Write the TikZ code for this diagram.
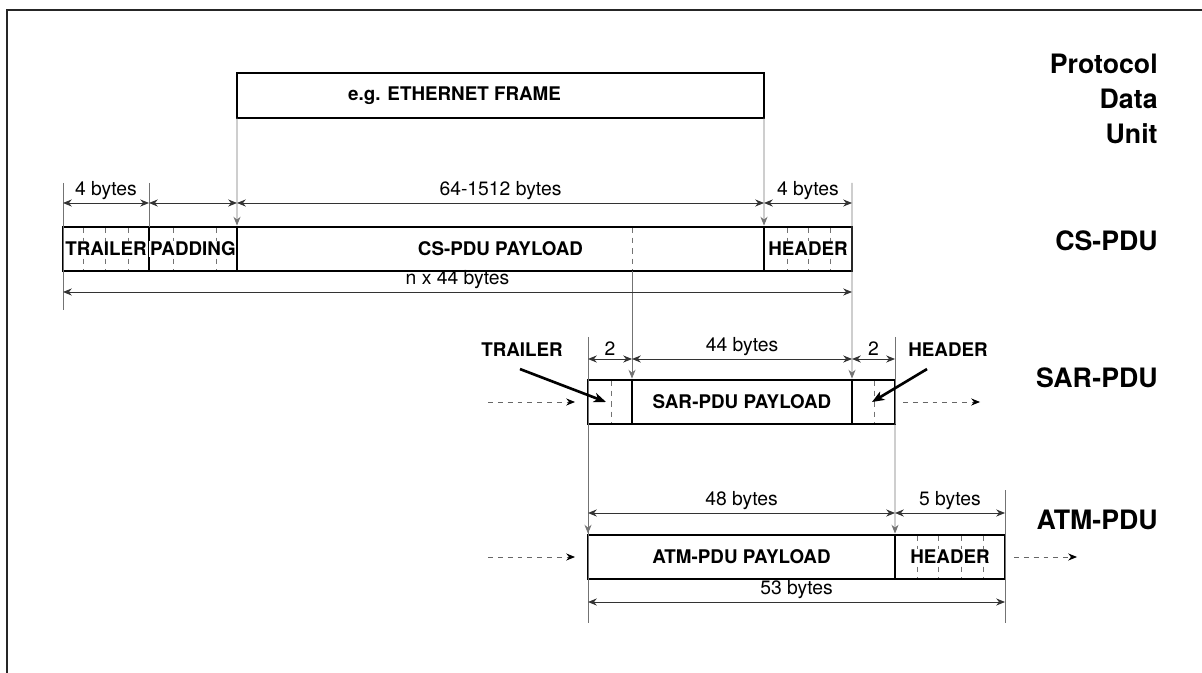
\documentclass[tikz,border=0pt]{standalone}
\usepackage{fontspec}
\setmainfont{TeX Gyre Heros}
\usetikzlibrary{arrows.meta,positioning,calc}

\newcommand{\fieldtext}[1]{{\setlength{\fboxsep}{0.6pt}\colorbox{white}{#1}}}

\tikzset{
  tip/.style={-{Stealth[length=5pt,width=4pt,inset=1.6pt]}},
  field/.style={draw, line width=1.6pt, minimum height=0.88cm, inner sep=0pt, outer sep=0pt,
    anchor=north west, font=\bfseries\fontsize{10.7}{12}\selectfont},
  tickline/.style={draw=black!55, line width=0.45pt, dash pattern=on 3.2pt off 2.8pt},
  tickmarks/.style={path picture={
      \foreach \t in {#1}
        \draw[tickline] ([xshift=\t cm]path picture bounding box.north west)
          -- ([xshift=\t cm]path picture bounding box.south west);}},
  extline/.style={draw=black!55, line width=0.5pt},
  dimline/.style={draw=black!80, line width=0.5pt,
    {Stealth[length=5pt,width=4pt,inset=1.6pt]}-{Stealth[length=5pt,width=4pt,inset=1.6pt]}},
  dimlabel/.style={midway, above, inner sep=1.5pt, font=\fontsize{11}{12}\selectfont},
  flow/.style={draw=black!60, line width=0.5pt, dash pattern=on 2.8pt off 2.8pt,
    -{Stealth[length=5pt,width=4pt,inset=1.6pt,black]}},
  pointer/.style={line width=1.5pt, -{Stealth[length=7pt,width=5.5pt,inset=2pt]}},
  boxlabel/.style={font=\bfseries\fontsize{10.7}{12}\selectfont},
  pdulabel/.style={anchor=east, align=right, inner sep=0pt,
    font=\bfseries\fontsize{15.2}{19.9}\selectfont},
}

\begin{document}
\begin{tikzpicture}
  \useasboundingbox (0,0) rectangle (24.04,-13.46);

  % frame
  \draw[line width=1pt, black!85] (24.04,-0.2) -- (0.14,-0.2) -- (0.14,-13.46);

  % layer names
  \node[pdulabel] (pdu) at (23.16,-1.98) {Protocol\\Data\\Unit};
  \node[pdulabel] (cspdu) at (23.16,-4.82) {CS-PDU};
  \node[pdulabel] (sarpdu) at (23.16,-7.56) {SAR-PDU};
  \node[pdulabel] (atmpdu) at (23.16,-10.40) {ATM-PDU};

  % ethernet frame
  \node[field, minimum width=10.54cm, minimum height=0.9cm] (eth) at (4.74,-1.46) {};
  \node[boxlabel] (ethlabel) at ([xshift=-0.92cm]eth.center) {e.g. ETHERNET FRAME};

  % CS-PDU
  \node[field, minimum width=1.72cm, tickmarks={0.40,0.84,1.30}] (cstrl) at (1.26,-4.54) {\fieldtext{TRAILER}};
  \node[field, minimum width=1.76cm, tickmarks={0.48,1.34}, right=0pt of cstrl] (cspad) {\fieldtext{PADDING}};
  \node[field, minimum width=10.54cm, tickmarks={7.90}, right=0pt of cspad] (cspay) {\fieldtext{CS-PDU PAYLOAD}};
  \node[field, minimum width=1.76cm, tickmarks={0.46,0.88,1.32}, right=0pt of cspay] (cshdr) {\fieldtext{HEADER}};

  % SAR-PDU
  \node[field, minimum width=0.88cm, tickmarks={0.46}] (sartrl) at (11.76,-7.60) {};
  \node[field, minimum width=4.40cm, right=0pt of sartrl] (sarpay) {SAR-PDU PAYLOAD};
  \node[field, minimum width=0.86cm, tickmarks={0.44}, right=0pt of sarpay] (sarhdr) {};

  % ATM-PDU
  \node[field, minimum width=6.14cm] (atmpay) at (11.76,-10.70) {ATM-PDU PAYLOAD};
  \node[field, minimum width=2.20cm, tickmarks={0.44,0.86,1.32,1.76}, right=0pt of atmpay] (atmhdr) {\fieldtext{HEADER}};

  % extension lines
  \draw[extline, tip, shorten >=0.8pt] (eth.south west) -- (cspay.north west);
  \draw[extline, tip, shorten >=0.8pt] (eth.south east) -- (cspay.north east);
  \draw[extline] ([yshift=0.88cm]cstrl.north west) -- ([yshift=-0.78cm]cstrl.south west);
  \draw[extline] ([yshift=0.88cm]cspad.north west) -- (cspad.north west);
  \draw[extline, tip, shorten >=0.8pt] ([yshift=0.88cm]cshdr.north east) -- (sarhdr.north west);
  \draw[extline, tip, shorten >=0.8pt] (cspay.south -| sarpay.north west) -- (sarpay.north west);
  \draw[extline] ([yshift=0.86cm]sartrl.north west) -- ([yshift=-0.88cm]atmpay.south west);
  \draw[extline, tip, shorten >=0.8pt] (sartrl.south west) -- (atmpay.north west);
  \draw[extline] ([yshift=0.86cm]sarhdr.north east) -- (sarhdr.south east);
  \draw[extline, tip, shorten >=0.8pt] (sarhdr.south east) -- (atmhdr.north west);
  \draw[extline] ([yshift=0.90cm]atmhdr.north east) -- ([yshift=-0.88cm]atmhdr.south east);

  % CS-PDU sizes
  \draw[dimline] ([yshift=0.48cm]cstrl.north west) -- ([yshift=0.48cm]cstrl.north east) node[dimlabel] {4 bytes};
  \draw[dimline] ([yshift=0.48cm]cspad.north west) -- ([yshift=0.48cm]cspad.north east);
  \draw[dimline] ([yshift=0.48cm]cspay.north west) -- ([yshift=0.48cm]cspay.north east) node[dimlabel] {64-1512 bytes};
  \draw[dimline] ([yshift=0.48cm]cshdr.north west) -- ([yshift=0.48cm]cshdr.north east) node[dimlabel] {4 bytes};
  \draw[dimline] ([yshift=-0.42cm]cstrl.south west) -- ([yshift=-0.42cm]cshdr.south east) node[dimlabel] {n x 44 bytes};

  % SAR-PDU sizes
  \draw[dimline] ([yshift=0.42cm]sartrl.north west) -- ([yshift=0.42cm]sartrl.north east) node[dimlabel] {2};
  \draw[dimline] ([yshift=0.42cm]sarpay.north west) -- ([yshift=0.42cm]sarpay.north east) node[dimlabel] {44 bytes};
  \draw[dimline] ([yshift=0.42cm]sarhdr.north west) -- ([yshift=0.42cm]sarhdr.north east) node[dimlabel] {2};

  % ATM-PDU sizes
  \draw[dimline] ([yshift=0.44cm]atmpay.north west) -- ([yshift=0.44cm]atmpay.north east) node[dimlabel] {48 bytes};
  \draw[dimline] ([yshift=0.44cm]atmhdr.north west) -- ([yshift=0.44cm]atmhdr.north east) node[dimlabel] {5 bytes};
  \draw[dimline] ([yshift=-0.46cm]atmpay.south west) -- ([yshift=-0.46cm]atmhdr.south east) node[dimlabel] {53 bytes};

  % trailer and header pointers
  \node[boxlabel] (trllabel) at (10.44,-7.00) {TRAILER};
  \node[boxlabel] (hdrlabel) at (18.96,-7.00) {HEADER};
  \draw[pointer] ([xshift=-0.04cm,yshift=-0.12cm]trllabel.south) -- ([xshift=-0.08cm]sartrl.center);
  \draw[pointer] ([xshift=-0.42cm,yshift=-0.12cm]hdrlabel.south) -- ([xshift=-0.03cm]sarhdr.center);

  % cell stream
  \draw[flow] ([xshift=-2.00cm]sartrl.west) -- ([xshift=-0.26cm]sartrl.west);
  \draw[flow] ([xshift=0.16cm]sarhdr.east) -- ([xshift=1.70cm]sarhdr.east);
  \draw[flow] ([xshift=-2.00cm]atmpay.west) -- ([xshift=-0.26cm]atmpay.west);
  \draw[flow] ([xshift=0.18cm]atmhdr.east) -- ([xshift=1.44cm]atmhdr.east);
\end{tikzpicture}
\end{document}
